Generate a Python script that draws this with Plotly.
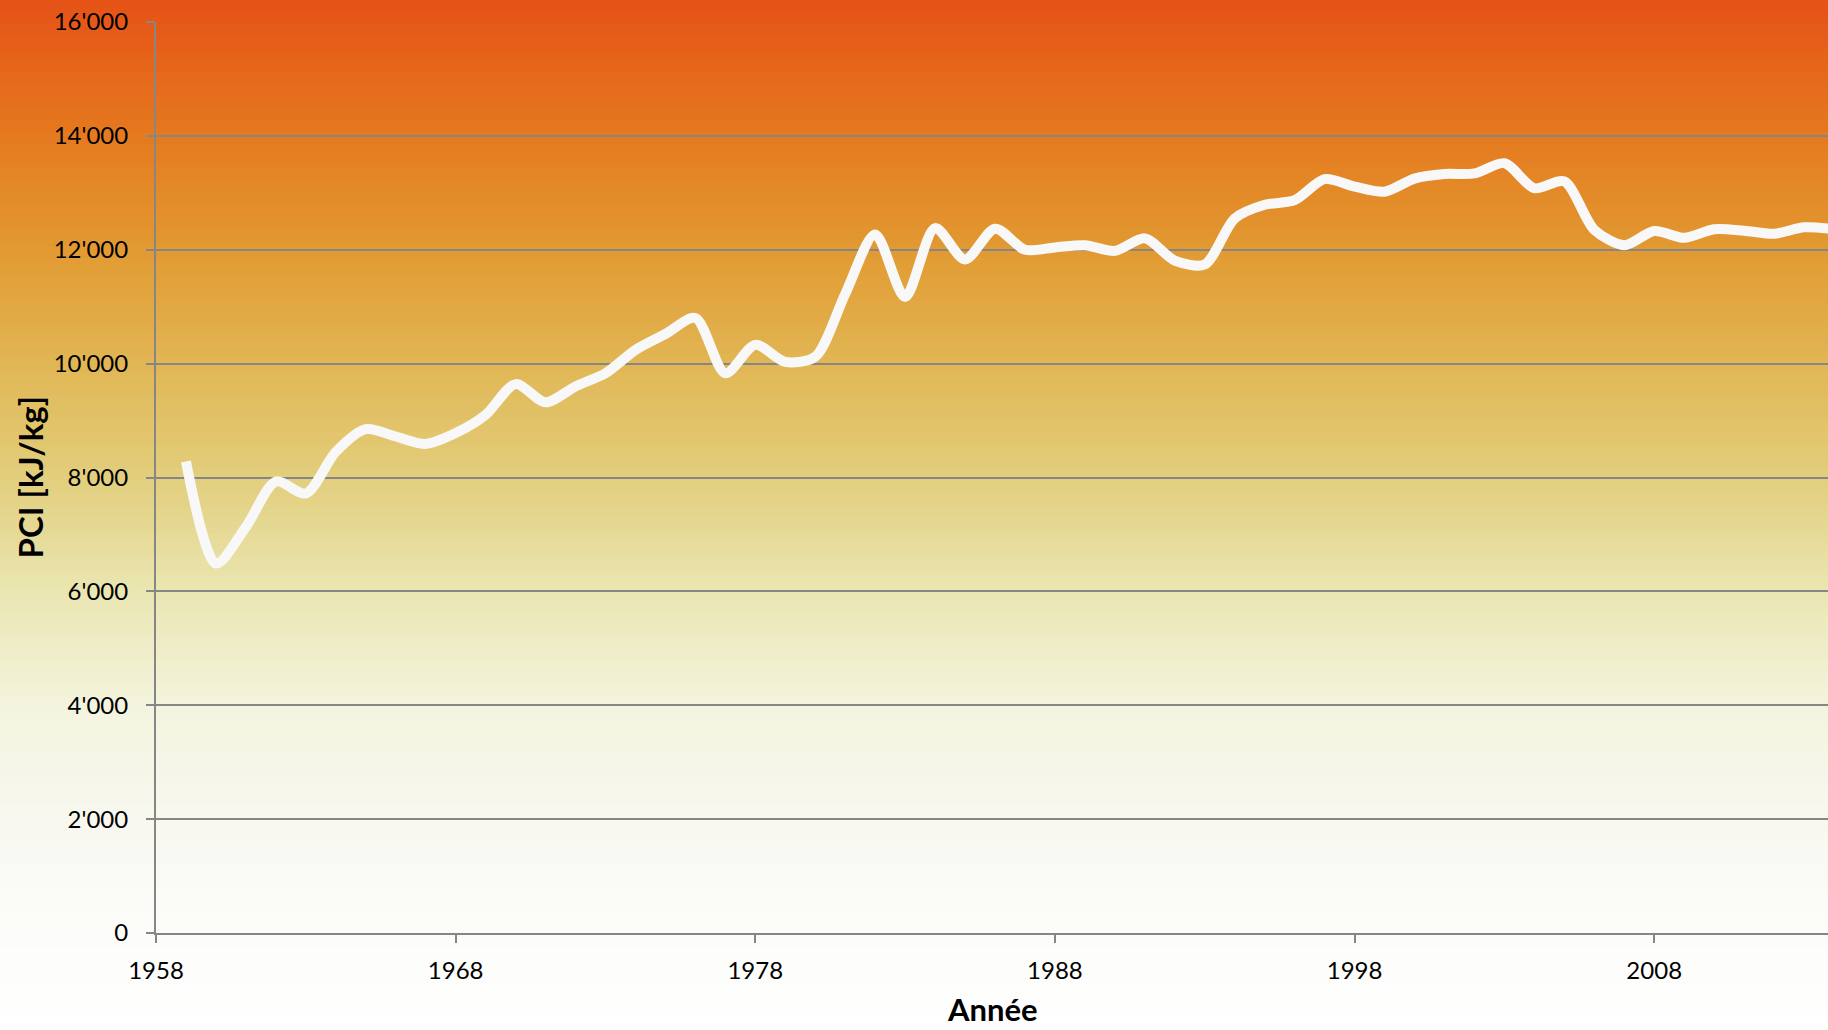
import plotly.graph_objects as go

# ---- data ----
years = list(range(1959, 2015))
pci = [8280, 6490, 7130, 7930, 7720, 8450, 8850, 8720, 8590, 8780,
       9100, 9640, 9320, 9600, 9830, 10240, 10520, 10800, 9830, 10330,
       10030, 10120, 11220, 12270, 11170, 12380, 11830, 12370, 12000, 12040,
       12080, 11980, 12200, 11810, 11740, 12550, 12790, 12870, 13240, 13110,
       13020, 13250, 13330, 13340, 13520, 13080, 13200, 12350, 12080, 12330,
       12210, 12360, 12335, 12280, 12395, 12360]
x_ticks = [1958, 1968, 1978, 1988, 1998, 2008]
y_ticks = [0, 2000, 4000, 6000, 8000, 10000, 12000, 14000, 16000]

# ---- style ----
W, H = 1828, 1030
ML, MR, MT, MB = 156, 0, 22, 97
PH = H - MT - MB
GRID = "#868686"
FONT = "Lato"
# background gradient stops (pixel y from top, rgb)
stops = [(0, (229, 82, 22)), (136, (229, 122, 31)), (250, (226, 154, 50)),
         (363, (225, 182, 84)), (477, (226, 206, 124)), (591, (234, 230, 178)),
         (705, (243, 244, 222)), (819, (248, 248, 240)), (933, (252, 252, 250)),
         (1030, (255, 255, 255))]


def color_at(yp):
    for (y0, c0), (y1, c1) in zip(stops[:-1], stops[1:]):
        if y0 <= yp <= y1:
            t = (yp - y0) / (y1 - y0)
            return "rgb(%d,%d,%d)" % tuple(round(a + (b - a) * t) for a, b in zip(c0, c1))
    return "rgb(255,255,255)"


shapes = []
step = 6
for yp in range(0, H, step):
    y_top = (H - MB - yp) / PH
    y_bot = (H - MB - (yp + step + 1)) / PH
    shapes.append(dict(type="rect", xref="paper", yref="paper",
                       x0=-ML / (W - ML - MR) - 0.01, x1=1.01,
                       y0=y_bot, y1=y_top, line=dict(width=0),
                       fillcolor=color_at(yp + step / 2), layer="below"))

fig = go.Figure()
fig.add_trace(go.Scatter(x=years, y=pci, mode="lines",
                         line=dict(color="#f8f8f8", width=10, shape="spline", smoothing=0.8),
                         showlegend=False, hoverinfo="x+y"))

fig.update_layout(
    width=W, height=H,
    margin=dict(l=ML, r=MR, t=MT, b=MB),
    paper_bgcolor="white", plot_bgcolor="rgba(0,0,0,0)",
    separators=".'",
    font=dict(family=FONT, size=24, color="black"),
    shapes=shapes,
    xaxis=dict(range=[1958, 2013.8], tickvals=x_ticks, ticktext=[str(v) for v in x_ticks],
               showgrid=False, zeroline=False, showline=True, linecolor=GRID, linewidth=2,
               ticks="outside", ticklen=8, tickwidth=2, tickcolor=GRID,
               ticklabelstandoff=7),
    yaxis=dict(range=[0, 16000], tickvals=y_ticks, tickformat=",d",
               showgrid=True, gridcolor=GRID, gridwidth=2, zeroline=False,
               showline=True, linecolor=GRID, linewidth=2,
               ticks="outside", ticklen=8, tickwidth=2, tickcolor=GRID,
               ticklabelstandoff=13),
    annotations=[
        dict(text="<b>Année</b>", xref="paper", yref="paper",
             x=0.5, y=(H - MB - 1009) / PH, xanchor="center", yanchor="middle",
             showarrow=False, font=dict(family=FONT, size=31, color="black")),
        dict(text="<b>PCI [kJ/kg]</b>", xref="paper", yref="paper",
             x=(29 - ML) / (W - ML - MR), y=0.5, xanchor="center", yanchor="middle",
             textangle=-90, showarrow=False, font=dict(family=FONT, size=33, color="black")),
    ],
)

fig.write_html("out.html")
